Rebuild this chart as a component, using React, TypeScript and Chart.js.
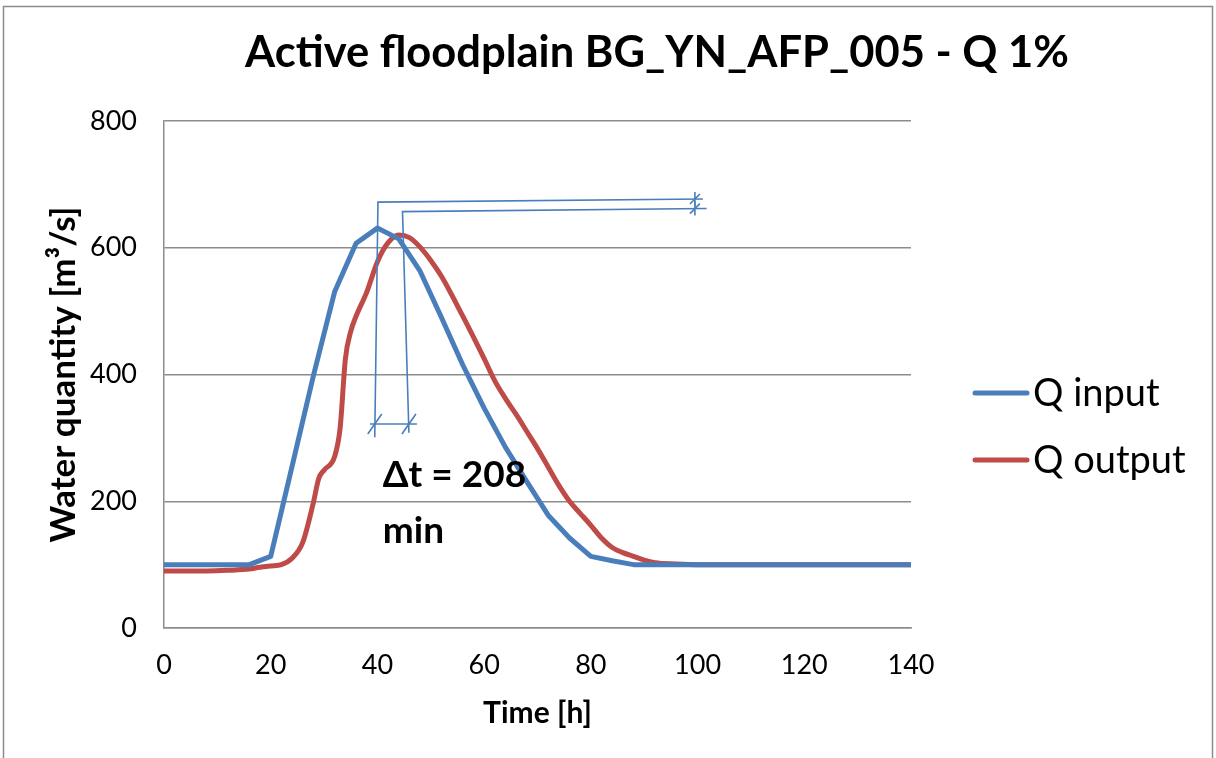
import React, { useEffect, useRef } from 'react';
import { Chart, registerables } from 'chart.js';

Chart.register(...registerables);

const CHART_TITLE = 'Active floodplain BG_YN_AFP_005 - Q 1%';
const X_TITLE = 'Time [h]';
const Y_TITLE = 'Water quantity [m³/s]';
const SERIES_NAMES = ['Q input', 'Q output'];
const SERIES_COLORS = ['#4A7EBB', '#BE4B48'];

const X_MIN = 0;
const X_MAX = 140;
const X_STEP = 20;
const Y_MIN = 0;
const Y_MAX = 800;
const Y_STEP = 200;

const inputHours = [0, 4, 8, 12, 16, 20, 24, 28, 32, 36, 40, 44, 48, 52, 56, 60, 64, 68, 72, 76, 80, 84, 88, 92, 96, 100, 104, 108, 112, 116, 120, 124, 128, 132, 136, 140];
const inputValues = [100, 100, 100, 100, 100, 113, 255, 398, 531, 607, 631, 614, 563, 490, 415, 347, 285, 231, 178, 142, 113, 106, 100, 100, 100, 100, 100, 100, 100, 100, 100, 100, 100, 100, 100, 100];

const outputHours = [0, 4, 8, 12, 16, 18, 20, 22, 24, 26, 28, 29, 30, 32, 33, 34, 35, 36, 38, 40, 42, 44, 46, 48, 50, 52, 56, 60, 62, 64, 66, 68, 70, 72, 74, 76, 78, 80, 82, 84, 86, 88, 90, 92, 96, 100, 110, 120, 130, 140];
const outputValues = [90, 90, 90, 91, 93, 96, 98, 100, 110, 135, 198, 236, 249, 271, 315, 425, 468, 492, 530, 578, 608, 620, 616, 601, 580, 555, 492, 425, 390, 362, 337, 310, 283, 254, 225, 200, 181, 162, 142, 127, 119, 113, 107, 103, 101, 100, 100, 100, 100, 100];

// Dimension-line annotation (data coordinates: [hour, value])
const dimLineA = [[39.5, 301], [40.1, 672], [101.0, 677]];
const dimLineB = [[45.9, 308], [44.7, 657], [101.7, 662]];
const dimEndHour = 99.5;
const dimBaseline = [[38.6, 322], [47.4, 322]];
const dimBaseTicks = [39.5, 45.9];
const deltaLabel = ['Δt = 208', 'min'];
const deltaLabelPos = [41.0, 222];

const FONT = 'Lato, "Open Sans", sans-serif';

const decorPlugin = {
  id: 'decor',
  beforeDraw(chart: any) {
    const { ctx, width, height } = chart;
    ctx.save();
    ctx.fillStyle = '#ffffff';
    ctx.fillRect(0, 0, width, height);
    ctx.strokeStyle = '#8c8c8c';
    ctx.lineWidth = 1.5;
    ctx.strokeRect(3.5, 6.5, width - 7, height + 20);
    ctx.restore();
  },
  afterDatasetsDraw(chart: any) {
    const { ctx } = chart;
    const xs = chart.scales.x;
    const ys = chart.scales.y;
    const X = (v: number) => xs.getPixelForValue(v);
    const Y = (v: number) => ys.getPixelForValue(v);
    ctx.save();
    ctx.strokeStyle = SERIES_COLORS[0];
    ctx.lineWidth = 1.6;
    const poly = (pts: number[][]) => {
      ctx.beginPath();
      pts.forEach((p, i) => {
        if (i === 0) ctx.moveTo(X(p[0]), Y(p[1]));
        else ctx.lineTo(X(p[0]), Y(p[1]));
      });
      ctx.stroke();
    };
    poly(dimLineA);
    poly(dimLineB);
    poly(dimBaseline);
    [dimLineA, dimLineB].forEach((l) => {
      const px = X(dimEndHour);
      const py = Y(l[2][1]) + (Y(l[1][1]) - Y(l[2][1])) * ((l[2][0] - dimEndHour) / (l[2][0] - l[1][0]));
      ctx.beginPath();
      ctx.moveTo(px, py - 7);
      ctx.lineTo(px, py + 7);
      ctx.moveTo(px - 5, py + 5);
      ctx.lineTo(px + 5, py - 5);
      ctx.stroke();
    });
    dimBaseTicks.forEach((h) => {
      const px = X(h);
      const py = Y(dimBaseline[0][1]);
      ctx.beginPath();
      ctx.moveTo(px - 7, py + 10);
      ctx.lineTo(px + 7, py - 10);
      ctx.stroke();
    });
    ctx.fillStyle = '#000000';
    ctx.font = `bold 37px ${FONT}`;
    ctx.textAlign = 'left';
    ctx.textBaseline = 'alphabetic';
    const lx = X(deltaLabelPos[0]);
    const ly = Y(deltaLabelPos[1]);
    ctx.fillText(deltaLabel[0], lx, ly);
    ctx.fillText(deltaLabel[1], lx, ly + 56);
    ctx.restore();
  },
  afterDraw(chart: any) {
    const { ctx } = chart;
    ctx.save();
    ctx.fillStyle = '#000000';
    ctx.font = `bold 43.5px ${FONT}`;
    ctx.textAlign = 'center';
    ctx.textBaseline = 'alphabetic';
    ctx.fillText(CHART_TITLE, 657, 67);
    const legendY = [393, 460];
    SERIES_NAMES.forEach((name, i) => {
      ctx.strokeStyle = SERIES_COLORS[i];
      ctx.lineWidth = 5;
      ctx.lineCap = 'round';
      ctx.beginPath();
      ctx.moveTo(975, legendY[i]);
      ctx.lineTo(1027, legendY[i]);
      ctx.stroke();
      ctx.fillStyle = '#000000';
      ctx.font = `38px ${FONT}`;
      ctx.textAlign = 'left';
      ctx.textBaseline = 'alphabetic';
      ctx.fillText(name, 1033, legendY[i] + 13);
    });
    ctx.restore();
  },
};

export default function App() {
  const canvasRef = useRef<HTMLCanvasElement | null>(null);

  useEffect(() => {
    if (!canvasRef.current) return;
    const chart = new Chart(canvasRef.current, {
      type: 'line',
      data: {
        datasets: [
          {
            label: SERIES_NAMES[0],
            data: inputHours.map((h, i) => ({ x: h, y: inputValues[i] })),
            borderColor: SERIES_COLORS[0],
            backgroundColor: SERIES_COLORS[0],
            borderWidth: 5,
            pointRadius: 0,
            tension: 0,
            borderJoinStyle: 'round',
            borderCapStyle: 'round',
          },
          {
            label: SERIES_NAMES[1],
            data: outputHours.map((h, i) => ({ x: h, y: outputValues[i] })),
            borderColor: SERIES_COLORS[1],
            backgroundColor: SERIES_COLORS[1],
            borderWidth: 5,
            pointRadius: 0,
            cubicInterpolationMode: 'monotone',
            borderJoinStyle: 'round',
            borderCapStyle: 'round',
          },
        ],
      },
      options: {
        animation: false,
        responsive: false,
        layout: { padding: { left: 0, top: 121, right: 305, bottom: 0 } },
        plugins: {
          legend: { display: false },
          title: { display: false },
          tooltip: { enabled: false },
        },
        scales: {
          x: {
            type: 'linear',
            min: X_MIN,
            max: X_MAX,
            afterFit: (s: any) => { s.height = 130; },
            ticks: {
              stepSize: X_STEP,
              color: '#000000',
              font: { family: FONT, size: 27 },
              padding: 21,
              maxRotation: 0,
            },
            grid: { display: false, drawTicks: false },
            border: { display: true, color: '#8c8c8c', width: 1.5 },
            title: {
              display: true,
              text: X_TITLE,
              color: '#000000',
              font: { family: FONT, size: 30, weight: 'bold' },
              padding: { top: 0, bottom: 27 },
            },
          },
          y: {
            type: 'linear',
            min: Y_MIN,
            max: Y_MAX,
            afterFit: (s: any) => { s.width = 164; },
            ticks: {
              stepSize: Y_STEP,
              color: '#000000',
              font: { family: FONT, size: 27 },
              padding: 27,
            },
            grid: { display: true, drawTicks: false, color: '#8c8c8c', lineWidth: 1.5 },
            border: { display: true, color: '#8c8c8c', width: 1.5 },
            title: {
              display: true,
              text: Y_TITLE,
              color: '#000000',
              font: { family: FONT, size: 35, weight: 'bold' },
              padding: { top: 43, bottom: 0 },
            },
          },
        },
      },
      plugins: [decorPlugin],
    } as any);
    return () => chart.destroy();
  }, []);

  return (
    <div style={{ position: 'fixed', left: 0, top: 0, width: 1216, height: 758, background: '#fff' }}>
      <canvas ref={canvasRef} width={1216} height={758} style={{ display: 'block' }} />
    </div>
  );
}
